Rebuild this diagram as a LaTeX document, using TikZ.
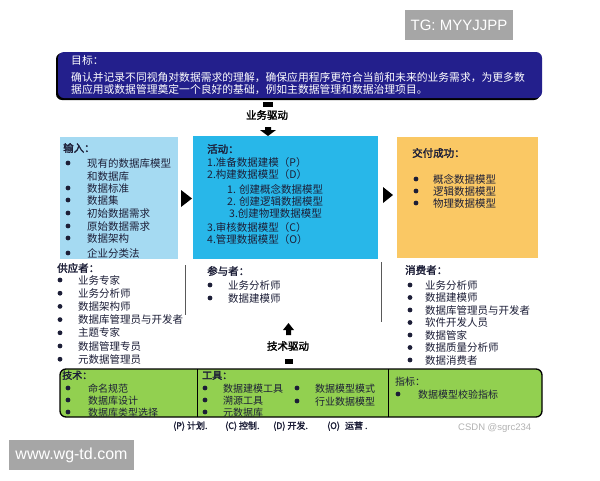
\documentclass[tikz,border=0pt]{standalone}
\usepackage{fontspec}
\setmainfont{Noto Sans CJK SC}[AutoFakeBold=2]
\newfontfamily\wmfont{Liberation Sans}
\definecolor{navy}{RGB}{35,31,140}
\definecolor{inblue}{RGB}{165,218,242}
\definecolor{actblue}{RGB}{40,183,233}
\definecolor{delorange}{RGB}{250,200,100}
\definecolor{techgreen}{RGB}{146,208,80}
\definecolor{ink}{RGB}{28,30,55}
\definecolor{wmgray}{RGB}{166,166,166}
\tikzset{
  boxnode/.style={inner sep=0pt, outer sep=0pt, anchor=north west},
  txt/.style={anchor=base west, inner sep=0pt, text=ink, font=\fontsize{10.5}{12}\selectfont},
  txts/.style={anchor=base west, inner sep=0pt, text=ink, font=\fontsize{10}{12}\selectfont},
  head/.style={txt, font=\fontsize{10.5}{12}\selectfont\bfseries},
  heads/.style={txts, font=\fontsize{10}{12}\selectfont\bfseries},
  wtxt/.style={anchor=base west, inner sep=0pt, text=white, font=\fontsize{10.8}{12}\selectfont},
  drive/.style={inner sep=0pt, text=black, font=\fontsize{10.5}{12}\selectfont\bfseries},
  legtxt/.style={anchor=base west, inner sep=0pt, text=ink, font=\fontsize{9}{12}\selectfont\bfseries},
  bul/.style={fill=ink},
}
\begin{document}
\begin{tikzpicture}[x=1pt,y=-1pt]
\useasboundingbox[fill=white] (0,0) rectangle (600,480);

% goal box
\fill[black, rounded corners=6pt] (56,53) rectangle (540,100);
\node[boxnode, fill=navy, rounded corners=6pt, minimum width=484, minimum height=46] (goal) at (58,52) {};
\node[wtxt] (goalh) at (71,64) {目标：};
\node[wtxt] (goal1) at (71,81) {确认并记录不同视角对数据需求的理解，确保应用程序更符合当前和未来的业务需求，为更多数};
\node[wtxt] (goal2) at (71,93) {据应用或数据管理奠定一个良好的基础，例如主数据管理和数据治理项目。};

% business drive
\fill (263,102) rectangle (273,107);
\node[drive] (bizdrive) at (267,115) {业务驱动};
\fill (265,127) -- (271,127) -- (271,130) -- (276,130) -- (268,136) -- (260,130) -- (265,130) -- cycle;

% three main boxes
\node[boxnode, fill=inblue, minimum width=118, minimum height=122] (input) at (60,137) {};
\node[boxnode, fill=actblue, minimum width=185, minimum height=123] (act) at (193,136) {};
\node[boxnode, fill=delorange, minimum width=141, minimum height=121] (deliv) at (397,137) {};
\fill (181,190) -- (192,198.5) -- (181,207) -- cycle;
\fill (383,187) -- (393,195) -- (383,203) -- cycle;

% input list
\node[head] (inh) at (63,152) {输入：};
\foreach \y in {163,188,200,213,226,238,253} \fill[bul] (68,\y) circle (2.4);
\foreach \y/\t [count=\i] in {167/现有的数据库模型, 180/和数据库, 192/数据标准, 204/数据集, 217/初始数据需求, 230/原始数据需求, 242/数据架构, 257/企业分类法}
  \node[txt] (in\i) at (87,\y) {\t};

% activity list
\node[head] (acth) at (207,153) {活动：};
\foreach \x/\y/\t [count=\i] in {207/166/1.准备数据建模（P）, 207/178/2.构建数据模型（D）, 227/193/1. 创建概念数据模型, 227/205/2. 创建逻辑数据模型, 229/217/3.创建物理数据模型, 207/231/3.审核数据模型（C）, 207/243/4.管理数据模型（O）}
  \node[txt] (act\i) at (\x,\y) {\t};

% deliverables
\node[head] (delh) at (412,157) {交付成功：};
\foreach \y/\t [count=\i] in {179/概念数据模型, 191/逻辑数据模型, 203/物理数据模型} {
  \fill[bul] (416,\y) circle (2.4);
  \node[txt] (del\i) at (433,\y+4) {\t};
}

% suppliers
\node[head] (suph) at (57,272) {供应者：};
\foreach \t [count=\i from 0] in {业务专家, 业务分析师, 数据架构师, 数据库管理员与开发者, 主题专家, 数据管理专员, 元数据管理员} {
  \fill[bul] (60,{280+13.2*\i}) circle (2.4);
  \node[txt] (sup\i) at (78,{284+13.2*\i}) {\t};
}
\draw[gray!70!black, line width=1pt] (185,265) -- (185,315);

% participants
\node[head] (parh) at (207,275) {参与者：};
\foreach \t [count=\i from 0] in {业务分析师, 数据建模师} {
  \fill[bul] (210,{285+13*\i}) circle (2.4);
  \node[txt] (par\i) at (228,{289+13*\i}) {\t};
}
\draw[gray!70!black, line width=1pt] (381,262) -- (381,322);

% consumers
\node[head] (conh) at (405,274) {消费者：};
\foreach \t [count=\i from 0] in {业务分析师, 数据建模师, 数据库管理员与开发者, 软件开发人员, 数据管家, 数据质量分析师, 数据消费者} {
  \fill[bul] (410,{285+12.5*\i}) circle (2.4);
  \node[txt] (con\i) at (425,{289+12.5*\i}) {\t};
}

% technology drive
\fill (283,330) -- (288.5,323) -- (294,330) -- (291,330) -- (291,335) -- (286,335) -- (286,330) -- cycle;
\node[drive] (techdrive) at (288,346) {技术驱动};
\fill (285,359) rectangle (293,364);

% green box
\node[boxnode, draw=black, line width=1.3pt, fill=techgreen, rounded corners=6pt, minimum width=482, minimum height=48] (green) at (60,369) {};
\draw[black, line width=1pt] (197,369) -- (197,417);
\draw[black, line width=1pt] (388,369) -- (388,417);

\node[heads] (techh) at (62,379) {技术：};
\foreach \t [count=\i from 0] in {命名规范, 数据库设计, 数据库类型选择} {
  \fill[bul] (68,{388+12*\i}) circle (2.4);
  \node[txts] (tech\i) at (88,{392+12*\i}) {\t};
}
\node[heads] (toolh) at (202,379) {工具：};
\foreach \t [count=\i from 0] in {数据建模工具, 溯源工具, 元数据库} {
  \fill[bul] (205,{388+12*\i}) circle (2.4);
  \node[txts] (tool\i) at (223,{392+12*\i}) {\t};
}
\foreach \t [count=\i from 0] in {数据模型模式, 行业数据模型} {
  \fill[bul] (297,{388+13*\i}) circle (2.4);
  \node[txts] (toolb\i) at (315,{392+13*\i}) {\t};
}
\node[txts] (metrh) at (395,385) {指标：};
\fill[bul] (398,394) circle (2.4);
\node[txts] (metr0) at (418,398) {数据模型校验指标};

% footer legend
\node[legtxt] (legP) at (173,429) {(P) 计划.};
\node[legtxt] (legC) at (225,429) {(C) 控制.};
\node[legtxt] (legD) at (273,429) {(D) 开发.};
\node[legtxt] (legO) at (327,429) {(O)\hspace{3pt} 运营 .};
\node[anchor=base west, inner sep=0pt, text=black!30, font=\wmfont\fontsize{9.5}{11}\selectfont] (csdn) at (458,430) {CSDN @sgrc234};

% watermarks
\node[boxnode, fill=wmgray, minimum width=108, minimum height=30] (wm1) at (405,10) {};
\node[text=white, inner sep=0pt, font=\wmfont\fontsize{15}{16}\selectfont] (wm1t) at (wm1.center) {TG: MYYJJPP};
\node[boxnode, fill=wmgray, minimum width=125, minimum height=30] (wm2) at (9,440) {};
\node[text=white, inner sep=0pt, font=\wmfont\fontsize{16}{17}\selectfont] (wm2t) at (wm2.center) {www.wg-td.com};
\end{tikzpicture}
\end{document}
